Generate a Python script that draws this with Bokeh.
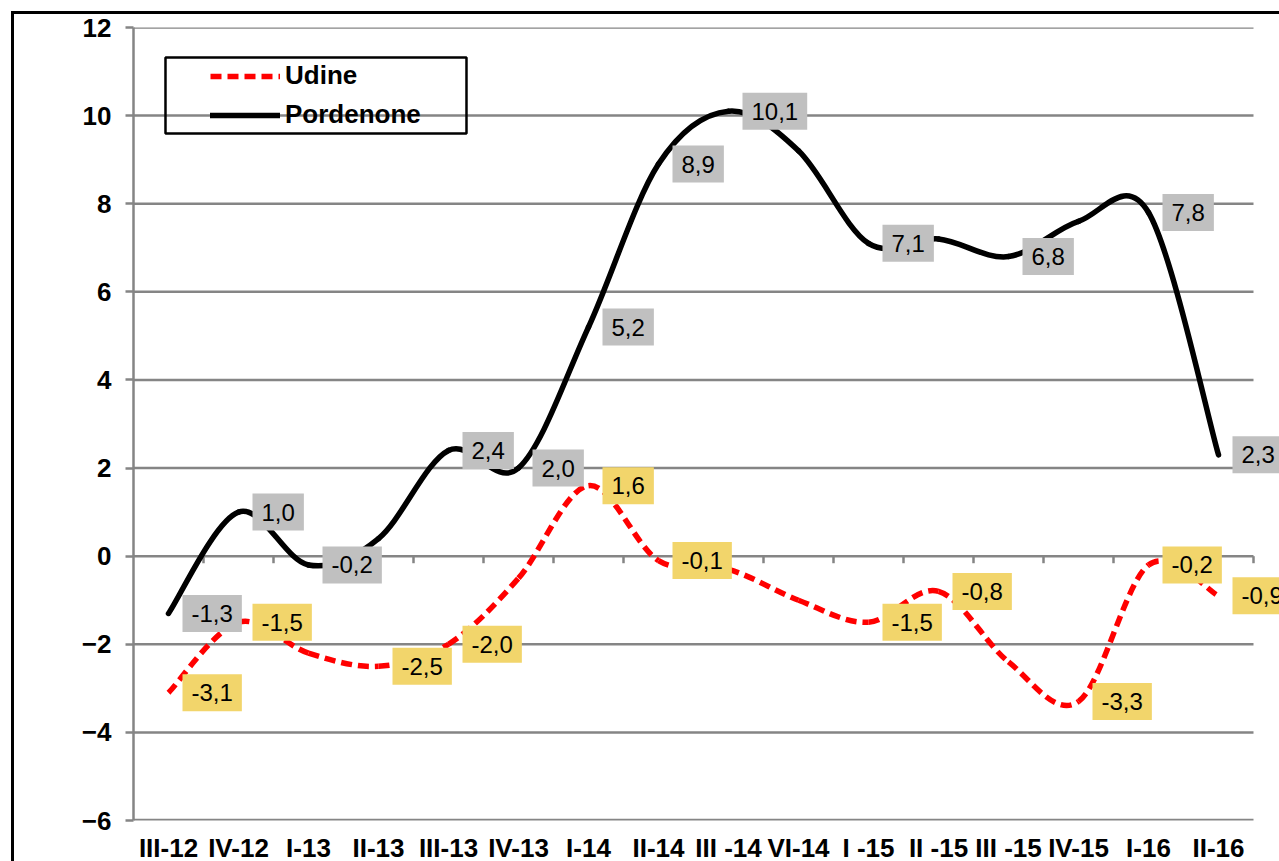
from bokeh.plotting import figure
from bokeh.models import (Range1d, FixedTicker, Label, Legend, LegendItem,
                          BoxAnnotation, ColumnDataSource)
from bokeh.embed import file_html
from bokeh.resources import INLINE

# ---------------- data ----------------
categories = ["III-12", "IV-12", "I-13", "II-13", "III-13", "IV-13", "I-14", "II-14",
              "III -14", "VI-14", "I -15", "II -15", "III -15", "IV-15", "I-16", "II-16"]
udine = [-3.1, -1.5, -2.2, -2.5, -2.0, -0.5, 1.6, -0.1,
         -0.3, -1.0, -1.5, -0.8, -2.4, -3.3, -0.2, -0.9]
pordenone = [-1.3, 1.0, -0.2, 0.4, 2.4, 2.0, 5.2, 8.9,
             10.1, 9.2, 7.1, 7.2, 6.8, 7.6, 7.8, 2.3]
# which points carry a data label in the original
udine_labelled = [1, 1, 0, 1, 1, 0, 1, 1, 0, 0, 1, 1, 0, 1, 1, 1]
pordenone_labelled = [1, 1, 1, 0, 1, 1, 1, 1, 1, 0, 1, 0, 1, 0, 1, 1]
y_ticks = [-6, -4, -2, 0, 2, 4, 6, 8, 10, 12]

FONT = "Liberation Sans"
GRID = "#858585"
n = len(categories)
xs = list(range(n))
x_lo, x_hi = -0.5, n - 0.5


def smooth_source(values):
    """Catmull-Rom style cubic Bezier segments (like Excel's smoothed line)."""
    d = dict(x0=[], y0=[], x1=[], y1=[], cx0=[], cy0=[], cx1=[], cy1=[])
    for i in range(n - 1):
        a = max(i - 1, 0)
        b = min(i + 2, n - 1)
        d["x0"].append(xs[i]); d["y0"].append(values[i])
        d["x1"].append(xs[i + 1]); d["y1"].append(values[i + 1])
        d["cx0"].append(xs[i] + (xs[i + 1] - xs[a]) / 6)
        d["cy0"].append(values[i] + (values[i + 1] - values[a]) / 6)
        d["cx1"].append(xs[i + 1] - (xs[b] - xs[i]) / 6)
        d["cy1"].append(values[i + 1] - (values[b] - values[i]) / 6)
    return ColumnDataSource(d)


# frame is 1146 px wide: 1120 px for the 16 categories + room for the last labels
p = figure(frame_width=1146, frame_height=793,
           x_range=Range1d(x_lo, x_hi + 26 / 70), y_range=Range1d(y_ticks[0], y_ticks[-1]),
           output_backend="svg", toolbar_location=None,
           min_border_left=119, min_border_right=0, min_border_top=13, min_border_bottom=38)
p.outline_line_color = None
p.background_fill_color = "white"
p.border_fill_color = "white"
p.styles = {"margin-left": "11px", "margin-top": "11px",
            "border-left": "3px solid black", "border-top": "3px solid black"}

# horizontal grid lines (only across the category area)
p.xgrid.grid_line_color = None
p.ygrid.grid_line_color = None
p.segment(x0=[x_lo] * len(y_ticks), x1=[x_hi] * len(y_ticks), y0=y_ticks, y1=y_ticks,
          line_color=GRID, line_width=[3.5 if t == y_ticks[0] else 2.5 for t in y_ticks])

# y axis
p.yaxis.ticker = FixedTicker(ticks=y_ticks)
p.yaxis.axis_line_color = GRID
p.yaxis.axis_line_width = 2.5
p.yaxis.major_tick_line_color = GRID
p.yaxis.major_tick_line_width = 2.5
p.yaxis.major_tick_out = 8
p.yaxis.major_tick_in = 0
p.yaxis.minor_tick_line_color = None
p.yaxis.major_label_text_font = FONT
p.yaxis.major_label_text_font_size = "26px"
p.yaxis.major_label_text_font_style = "bold"
p.yaxis.major_label_text_color = "black"
p.yaxis.major_label_standoff = 14

# x axis (labels at the bottom)
p.xaxis.ticker = FixedTicker(ticks=xs)
p.xaxis.major_label_overrides = {i: c for i, c in enumerate(categories)}
p.xaxis.major_tick_line_color = None
p.xaxis.minor_tick_line_color = None
p.xaxis.axis_line_color = None
p.xaxis.major_label_text_font = FONT
p.xaxis.major_label_text_font_size = "26px"
p.xaxis.major_label_text_font_style = "bold"
p.xaxis.major_label_text_color = "black"
p.xaxis.major_label_standoff = 6

# category boundary ticks on the zero line
bounds = [i + 0.5 for i in xs]
p.segment(x0=bounds, y0=[0] * n, x1=bounds, y1=[-0.16] * n,
          line_color=GRID, line_width=2.5)

# lines
r_p = p.bezier(x0="x0", y0="y0", x1="x1", y1="y1", cx0="cx0", cy0="cy0",
               cx1="cx1", cy1="cy1", source=smooth_source(pordenone),
               line_color="black", line_width=5.5, line_cap="round")
r_u = p.bezier(x0="x0", y0="y0", x1="x1", y1="y1", cx0="cx0", cy0="cy0",
               cx1="cx1", cy1="cy1", source=smooth_source(udine),
               line_color="#FF0000", line_width=5.5, line_dash="11 6")


def fmt(v):
    return f"{v:.1f}".replace(".", ",")


def add_labels(values, flags, colour):
    for i, (v, f) in enumerate(zip(values, flags)):
        if not f:
            continue
        p.add_layout(Label(x=xs[i], y=v, text=fmt(v), x_offset=14, y_offset=0,
                           text_align="left", text_baseline="middle",
                           text_font=FONT, text_font_size="24px", text_color="black",
                           background_fill_color=colour, padding=(9, 10)))


add_labels(pordenone, pordenone_labelled, "#C0C0C0")
add_labels(udine, udine_labelled, "#F2D56B")

# legend frame + legend
p.add_layout(BoxAnnotation(left=-0.043, right=4.257, top=11.32, bottom=9.594,
                           fill_alpha=0, line_color="black", line_alpha=1.0,
                           line_width=2.5))
legend = Legend(items=[LegendItem(label="Udine", renderers=[r_u]),
                       LegendItem(label="Pordenone", renderers=[r_p])],
                location=(77, 690), orientation="vertical",
                background_fill_alpha=0, border_line_alpha=0,
                padding=0, margin=0, spacing=8,
                glyph_width=70, glyph_height=30, label_height=30, label_standoff=5,
                label_text_font=FONT, label_text_font_size="26px",
                label_text_font_style="bold", label_text_color="black")
p.add_layout(legend)

open("out.html", "w").write(file_html(p, INLINE))
